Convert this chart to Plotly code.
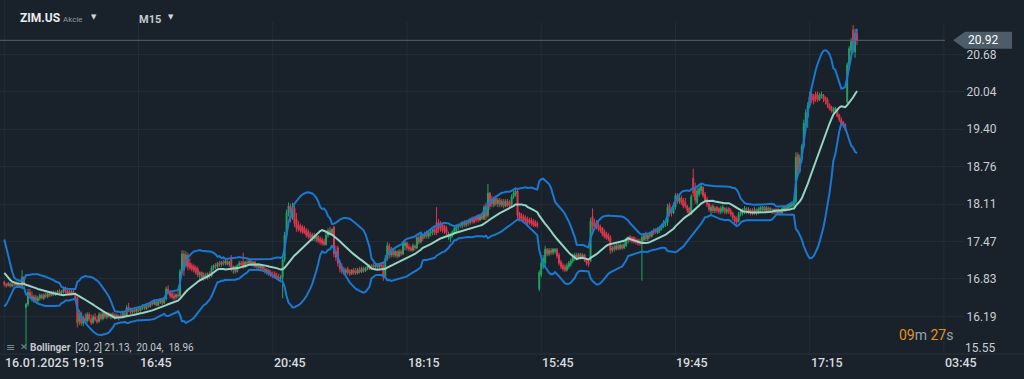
import pandas as pd
import plotly.graph_objects as go

# ---------------- data ----------------
opens = [
16.78,16.74,16.72,16.75,16.71,16.74,16.73,16.76,16.72,16.70,
16.86,16.34,16.40,16.60,16.54,16.48,16.52,16.46,16.50,16.55,
16.50,16.56,16.53,16.58,16.55,16.60,16.56,16.60,16.62,16.59,
16.62,16.66,16.62,16.63,16.58,16.62,16.57,16.50,16.10,16.24,
16.07,16.16,16.11,16.22,16.14,16.08,16.18,16.13,16.10,16.22,
16.15,16.24,16.18,16.22,16.19,16.23,16.17,16.21,16.16,16.19,
16.17,16.24,16.20,16.34,16.30,16.26,16.30,16.27,16.32,16.29,
16.34,16.36,16.32,16.38,16.36,16.42,16.40,16.45,16.38,16.44,
16.48,16.42,16.49,16.66,16.60,16.58,16.54,16.52,16.56,16.54,
16.96,17.26,17.06,17.24,17.10,17.06,17.04,17.02,17.00,16.90,
16.94,16.84,16.90,16.86,16.92,16.88,17.02,17.06,17.04,17.10,
17.08,17.12,17.10,17.14,17.08,17.20,17.00,17.04,16.96,17.06,
17.10,17.12,17.04,17.12,17.10,17.14,17.08,17.12,17.04,17.08,
17.02,17.05,17.00,16.96,16.98,16.94,16.90,16.92,16.88,16.86,
16.84,16.86,17.16,17.58,17.96,18.08,17.88,18.04,17.86,17.76,
17.74,17.72,17.70,17.66,17.64,17.60,17.54,17.58,17.52,17.56,
17.52,17.50,17.48,17.42,17.58,17.66,17.62,17.72,17.30,17.36,
17.12,17.04,17.00,16.94,17.00,16.96,16.92,16.98,16.96,16.93,
16.99,16.95,17.01,16.97,17.02,17.05,17.00,17.06,17.04,17.07,
17.03,17.08,17.06,16.88,17.18,17.40,17.24,17.34,17.24,17.30,
17.22,17.30,17.26,17.40,17.45,17.38,17.36,17.32,17.40,17.36,
17.54,17.46,17.58,17.56,17.62,17.56,17.62,17.64,17.68,17.80,
17.80,17.78,17.76,17.74,17.70,17.56,17.52,17.58,17.64,17.66,
17.72,17.76,17.74,17.80,17.76,17.82,17.80,17.86,17.86,17.88,
17.90,17.84,17.92,17.86,18.08,17.92,18.30,18.20,18.10,18.22,
18.12,18.18,18.10,18.16,18.08,18.16,18.14,18.10,18.24,18.28,
18.34,17.96,17.92,17.90,17.88,17.86,17.84,17.84,17.82,17.80,
17.78,16.66,16.90,17.04,17.10,17.34,17.26,17.32,17.28,17.30,
17.34,17.24,17.12,17.06,17.04,16.98,17.04,17.08,17.14,17.18,
17.24,17.20,17.25,17.20,17.24,17.16,17.12,17.14,17.90,17.80,
17.78,17.76,17.72,17.70,17.64,17.60,17.58,17.54,17.32,17.38,
17.34,17.40,17.35,17.41,17.36,17.40,17.48,17.56,17.54,17.54,
17.50,17.50,17.48,17.44,17.50,17.60,17.52,17.60,17.56,17.66,
17.66,17.62,17.66,17.70,17.74,17.78,17.80,18.10,18.02,17.96,
18.06,18.26,18.16,18.22,18.18,18.14,18.08,18.04,17.96,18.56,
18.40,18.14,18.28,18.34,18.40,18.28,18.20,18.12,18.00,18.08,
18.00,18.06,18.04,17.98,18.00,18.04,17.98,18.04,18.00,17.96,
17.90,17.86,17.82,17.94,17.96,17.98,18.04,17.98,18.02,18.00,
17.95,18.02,17.96,18.00,18.02,18.06,18.00,18.05,18.00,18.02,
17.98,18.02,17.96,18.01,17.96,18.00,18.06,18.02,18.06,18.08,
18.10,18.16,18.96,18.68,18.88,19.10,19.50,19.60,19.80,20.00,
19.96,20.00,19.98,19.90,19.96,19.98,19.94,19.90,19.82,19.78,
19.70,19.72,19.74,19.64,19.56,19.52,19.48,19.86,20.50,20.74,
21.10,20.72,21.04]

highs = [
16.80,16.76,16.78,16.77,16.77,16.76,16.79,16.78,16.75,16.98,
16.88,16.42,16.66,16.66,16.62,16.56,16.56,16.54,16.58,16.58,
16.58,16.60,16.60,16.62,16.62,16.63,16.62,16.64,16.66,16.64,
16.70,16.70,16.68,16.66,16.64,16.65,16.60,16.52,16.30,16.27,
16.20,16.24,16.26,16.26,16.22,16.22,16.24,16.20,16.26,16.26,
16.28,16.27,16.26,16.26,16.25,16.26,16.24,16.24,16.22,16.24,
16.26,16.27,16.38,16.42,16.34,16.32,16.34,16.34,16.36,16.36,
16.40,16.38,16.40,16.42,16.44,16.46,16.48,16.48,16.47,16.50,
16.50,16.52,16.70,16.72,16.64,16.62,16.60,16.58,16.62,17.00,
17.32,17.32,17.30,17.28,17.18,17.10,17.08,17.06,17.04,16.96,
16.96,16.94,16.94,16.94,16.96,17.06,17.08,17.10,17.12,17.14,
17.14,17.16,17.16,17.16,17.14,17.24,17.06,17.06,17.08,17.14,
17.14,17.28,17.14,17.16,17.16,17.16,17.14,17.14,17.10,17.10,
17.08,17.07,17.04,17.02,17.00,16.98,16.96,16.96,16.94,16.92,
16.90,17.20,17.64,18.02,18.14,18.12,18.14,18.08,17.96,17.82,
17.78,17.76,17.74,17.70,17.68,17.64,17.62,17.62,17.60,17.58,
17.56,17.54,17.52,17.62,17.70,17.72,17.70,17.74,17.40,17.40,
17.16,17.10,17.04,17.02,17.04,17.00,17.00,17.02,17.02,17.02,
17.04,17.04,17.04,17.04,17.08,17.08,17.08,17.10,17.10,17.10,
17.10,17.12,17.10,17.24,17.46,17.44,17.38,17.36,17.34,17.32,
17.34,17.34,17.48,17.48,17.47,17.44,17.40,17.44,17.42,17.58,
17.58,17.62,17.60,17.64,17.66,17.66,17.68,17.70,17.72,18.06,
17.86,17.82,17.80,17.76,17.74,17.64,17.62,17.66,17.72,17.76,
17.78,17.80,17.82,17.84,17.84,17.86,17.88,17.90,17.90,17.92,
17.94,17.94,17.96,18.10,18.14,18.46,18.32,18.26,18.24,18.26,
18.22,18.22,18.20,18.20,18.20,18.20,18.18,18.28,18.34,18.38,
18.36,17.98,17.96,17.94,17.92,17.90,17.88,17.88,17.86,17.84,
17.82,16.98,17.16,17.24,17.40,17.36,17.36,17.36,17.36,17.36,
17.36,17.28,17.16,17.10,17.08,17.10,17.14,17.18,17.26,17.28,
17.28,17.28,17.28,17.27,17.26,17.18,17.16,17.88,18.04,17.86,
17.84,17.80,17.76,17.72,17.68,17.64,17.62,17.58,17.40,17.42,
17.44,17.44,17.44,17.43,17.46,17.54,17.56,17.58,17.56,17.56,
17.54,17.52,17.52,17.60,17.62,17.64,17.62,17.64,17.66,17.70,
17.70,17.72,17.74,17.78,17.84,17.86,18.12,18.14,18.06,18.14,
18.30,18.30,18.26,18.26,18.22,18.22,18.10,18.06,18.28,18.72,
18.48,18.40,18.44,18.46,18.42,18.32,18.24,18.14,18.10,18.12,
18.08,18.08,18.06,18.08,18.10,18.06,18.06,18.06,18.04,17.98,
17.92,17.90,17.98,18.02,18.04,18.08,18.06,18.06,18.04,18.04,
18.06,18.04,18.06,18.08,18.08,18.08,18.08,18.07,18.06,18.04,
18.04,18.04,18.04,18.03,18.06,18.08,18.08,18.12,18.14,18.16,
18.18,19.00,19.00,18.96,19.14,19.56,19.74,19.86,20.04,20.02,
20.00,20.04,20.04,20.02,20.04,20.00,19.96,19.94,19.84,19.80,
19.78,19.78,19.76,19.66,19.60,19.54,19.50,20.54,20.82,20.96,
21.18,21.12,21.08]

lows = [
16.70,16.68,16.70,16.68,16.69,16.70,16.71,16.70,16.68,16.66,
16.70,15.62,16.36,16.50,16.44,16.42,16.44,16.42,16.46,16.48,
16.47,16.50,16.50,16.52,16.53,16.54,16.54,16.56,16.57,16.56,
16.58,16.58,16.56,16.56,16.55,16.55,16.46,16.00,16.04,16.03,
16.02,16.08,16.08,16.10,16.04,16.06,16.10,16.06,16.08,16.12,
16.12,16.15,16.14,16.16,16.14,16.15,16.13,16.14,16.12,16.15,
16.15,16.17,16.18,16.26,16.22,16.22,16.24,16.25,16.26,16.27,
16.30,16.30,16.30,16.33,16.34,16.37,16.38,16.36,16.36,16.40,
16.38,16.40,16.46,16.56,16.50,16.48,16.46,16.48,16.50,16.52,
16.92,16.88,17.02,16.98,16.98,16.96,16.94,16.90,16.86,16.80,
16.80,16.80,16.82,16.82,16.84,16.86,16.98,17.00,17.02,17.04,
17.04,17.06,17.06,17.06,17.04,16.96,16.92,16.92,16.94,17.02,
17.04,17.00,17.02,17.06,17.06,17.06,17.04,17.02,17.00,16.98,
16.96,16.96,16.92,16.90,16.88,16.86,16.84,16.84,16.82,16.80,
16.78,16.50,17.12,17.52,17.90,17.80,17.84,17.72,17.64,17.64,
17.62,17.60,17.60,17.54,17.52,17.50,17.48,17.48,17.46,17.44,
17.42,17.40,17.40,17.40,17.54,17.58,17.58,17.20,17.14,17.04,
16.94,16.92,16.90,16.90,16.90,16.88,16.90,16.90,16.90,16.91,
16.92,16.93,16.94,16.95,16.98,16.98,16.98,17.01,17.00,17.00,
17.01,17.02,16.80,16.84,17.14,17.18,17.20,17.20,17.20,17.18,
17.20,17.22,17.24,17.32,17.32,17.30,17.30,17.30,17.32,17.34,
17.42,17.44,17.48,17.52,17.52,17.52,17.56,17.58,17.58,17.58,
17.62,17.64,17.62,17.60,17.58,17.50,17.46,17.54,17.60,17.62,
17.66,17.70,17.70,17.72,17.72,17.74,17.76,17.78,17.78,17.80,
17.80,17.82,17.84,17.84,17.84,17.88,18.02,18.06,18.06,18.08,
18.06,18.06,18.06,18.04,18.06,18.06,18.06,18.08,18.20,18.24,
17.86,17.82,17.82,17.80,17.78,17.74,17.76,17.74,17.72,17.72,
17.70,16.62,16.86,17.00,17.02,17.22,17.22,17.24,17.24,17.26,
17.18,17.06,17.00,16.96,16.95,16.96,17.00,17.04,17.10,17.14,
17.18,17.18,17.16,17.18,17.12,17.06,17.04,17.12,17.66,17.70,
17.68,17.64,17.62,17.56,17.52,17.50,17.48,17.26,17.28,17.30,
17.32,17.32,17.33,17.33,17.34,17.38,17.44,17.46,17.44,17.44,
17.42,17.40,17.40,16.80,17.46,17.48,17.48,17.52,17.54,17.58,
17.60,17.60,17.62,17.66,17.70,17.72,17.74,17.90,17.90,17.94,
18.02,18.12,18.12,18.10,18.04,18.04,17.96,17.92,17.92,18.24,
18.12,18.10,18.24,18.28,18.22,18.14,18.06,17.98,17.92,17.96,
17.96,17.96,17.94,17.94,17.96,17.94,17.94,17.94,17.90,17.84,
17.76,17.76,17.80,17.90,17.92,17.94,17.94,17.94,17.92,17.92,
17.93,17.92,17.94,17.96,17.98,17.98,17.98,17.97,17.96,17.94,
17.94,17.92,17.94,17.92,17.94,17.98,17.98,18.00,18.02,18.04,
18.06,18.12,18.62,18.64,18.82,19.06,19.44,19.42,19.76,19.84,
19.82,19.86,19.86,19.88,19.92,19.86,19.82,19.76,19.72,19.68,
19.66,19.68,19.60,19.52,19.48,19.42,19.36,19.84,20.46,20.70,
20.70,20.62,20.84]

closes = [
16.74,16.72,16.75,16.71,16.74,16.73,16.76,16.72,16.70,16.86,
16.74,16.40,16.60,16.54,16.48,16.52,16.46,16.50,16.55,16.50,
16.56,16.53,16.58,16.55,16.60,16.56,16.60,16.62,16.59,16.62,
16.66,16.60,16.58,16.58,16.61,16.57,16.50,16.08,16.24,16.07,
16.16,16.11,16.22,16.14,16.08,16.18,16.13,16.10,16.22,16.15,
16.24,16.18,16.22,16.19,16.23,16.17,16.21,16.16,16.19,16.17,
16.24,16.20,16.34,16.30,16.26,16.30,16.27,16.32,16.29,16.34,
16.36,16.32,16.38,16.36,16.42,16.40,16.45,16.38,16.44,16.48,
16.42,16.49,16.66,16.60,16.54,16.52,16.50,16.56,16.54,16.96,
17.26,16.98,17.24,17.04,17.02,17.00,16.98,16.94,16.90,16.94,
16.84,16.90,16.86,16.92,16.88,17.02,17.06,17.04,17.10,17.08,
17.12,17.10,17.14,17.08,17.12,17.00,17.04,16.96,17.06,17.10,
17.08,17.04,17.12,17.10,17.14,17.08,17.12,17.04,17.08,17.02,
17.05,17.00,16.96,16.98,16.92,16.90,16.88,16.86,16.84,16.84,
16.86,17.16,17.58,17.96,18.08,17.86,18.04,17.78,17.70,17.68,
17.66,17.64,17.62,17.58,17.56,17.54,17.58,17.52,17.56,17.48,
17.46,17.44,17.42,17.58,17.66,17.62,17.68,17.26,17.20,17.10,
17.00,16.96,16.94,16.98,16.94,16.92,16.98,16.94,16.93,16.99,
16.95,17.01,16.97,17.02,17.05,17.00,17.06,17.04,17.07,17.03,
17.08,17.05,16.86,17.18,17.40,17.24,17.34,17.24,17.30,17.22,
17.30,17.26,17.44,17.45,17.36,17.34,17.32,17.40,17.36,17.54,
17.46,17.58,17.52,17.60,17.56,17.62,17.64,17.68,17.62,17.62,
17.68,17.70,17.66,17.64,17.62,17.60,17.58,17.64,17.70,17.72,
17.76,17.74,17.80,17.76,17.82,17.78,17.84,17.82,17.80,17.84,
17.84,17.92,17.86,18.06,17.90,18.30,18.08,18.12,18.20,18.12,
18.18,18.10,18.16,18.08,18.16,18.10,18.08,18.24,18.30,18.34,
17.92,17.86,17.86,17.84,17.82,17.78,17.80,17.78,17.76,17.74,
17.74,16.94,17.10,17.18,17.34,17.26,17.32,17.28,17.34,17.34,
17.22,17.10,17.04,17.00,16.98,17.06,17.10,17.14,17.22,17.24,
17.20,17.25,17.20,17.24,17.14,17.10,17.08,17.82,17.72,17.74,
17.72,17.68,17.66,17.60,17.56,17.54,17.52,17.32,17.36,17.34,
17.40,17.35,17.41,17.36,17.42,17.50,17.54,17.50,17.48,17.46,
17.46,17.44,17.44,17.54,17.58,17.52,17.58,17.56,17.64,17.62,
17.64,17.68,17.70,17.76,17.80,17.82,18.06,17.94,17.96,18.10,
18.26,18.16,18.22,18.14,18.08,18.08,18.00,17.96,18.24,18.30,
18.18,18.34,18.38,18.42,18.26,18.18,18.10,18.02,18.06,18.00,
18.04,18.00,17.98,18.04,18.06,17.98,18.02,17.98,17.94,17.88,
17.82,17.80,17.94,17.98,18.00,18.04,17.98,18.02,17.96,17.95,
18.02,17.96,18.03,18.05,18.06,18.00,18.05,18.00,18.04,17.98,
18.02,17.96,18.01,17.96,18.04,18.06,18.02,18.10,18.12,18.14,
18.16,18.92,18.68,18.90,19.10,19.50,19.68,19.80,19.96,19.90,
19.88,19.92,19.90,19.98,20.00,19.92,19.88,19.82,19.76,19.72,
19.74,19.76,19.62,19.56,19.50,19.46,19.40,20.50,20.78,20.90,
20.76,21.04,20.92]

# closes of the 19 candles just left of the visible window (only feed the Bollinger window)
warmup_closes = [17.60,17.55,17.45,17.30,17.10,16.90,16.85,16.80,16.78,16.80,
                 16.76,16.78,16.74,16.76,16.72,16.75,16.78,16.76,16.74]

price_ticks = [16.19, 16.83, 17.47, 18.11, 18.76, 19.40, 20.04, 20.68]
bottom_price_label = 15.55
time_labels = ["16.01.2025", "19:15", "16:45", "20:45", "18:15", "15:45", "19:45", "17:15", "03:45"]
time_label_pos = [0, 34, 68, 136, 204, 272, 340, 408, 476]
grid_pos = [0, 68, 136, 204, 272, 340, 408, 476]
last_price = 20.92
bb_period, bb_mult = 20, 2
bb_text_values = ["21.13", "20.04", "18.96"]
symbol, symbol_type, timeframe = "ZIM.US", "Akcie", "M15"
countdown = ("09", "27")

assert len(opens) == len(highs) == len(lows) == len(closes)

# ---------------- style ----------------
BG = "#19212a"
GRID = "#232c35"
GREEN = "#22a463"
RED = "#e0384f"
BLUE = "#1b78d2"
MINT = "#98d4c4"
TXT = "#c9ced3"
FONT = "Roboto"

W, H = 1024, 379
PL, PR, PT, PB = 0, 945, 22, 354          # plot area in pixels
Y0, Y1 = 15.544, 21.234
X0, X1 = -2.18, 476.55

def px(xp):
    return (xp - PL) / (PR - PL)

def py(yp):
    return (PB - yp) / (PB - PT)

def pv(v):
    return (v - Y0) / (Y1 - Y0)

idx = list(range(len(closes)))

s = pd.Series(warmup_closes + closes)
mid_s = s.rolling(bb_period).mean().iloc[len(warmup_closes):]
sd = s.rolling(bb_period).std(ddof=0).iloc[len(warmup_closes):]
mid = mid_s.tolist()
upper = (mid_s + bb_mult * sd).tolist()
lower = (mid_s - bb_mult * sd).tolist()

fig = go.Figure()
fig.add_trace(go.Candlestick(
    x=idx, open=opens, high=highs, low=lows, close=closes,
    increasing=dict(line=dict(color=GREEN, width=1), fillcolor=GREEN),
    decreasing=dict(line=dict(color=RED, width=1), fillcolor=RED),
    whiskerwidth=0, hoverinfo="skip", showlegend=False))
for series, col in ((upper, BLUE), (lower, BLUE), (mid, MINT)):
    fig.add_trace(go.Scatter(x=idx, y=series, mode="lines",
                             line=dict(color=col, width=2),
                             hoverinfo="skip", showlegend=False))

shapes = []
for g in grid_pos:
    shapes.append(dict(type="line", xref="x", yref="paper", x0=g, x1=g, y0=0,
                       y1=(py(0) if g == 0 else 1), line=dict(color=GRID, width=1),
                       layer="below"))
shapes.append(dict(type="line", xref="paper", yref="paper", x0=0, x1=px(W), y0=0, y1=0,
                   line=dict(color="#2a343d", width=1)))
shapes.append(dict(type="line", xref="paper", yref="paper", x0=0, x1=1,
                   y0=pv(last_price), y1=pv(last_price), line=dict(color="#56626c", width=1)))
yc, hh = pv(last_price), 8.5 / (PB - PT)
shapes.append(dict(type="path", xref="paper", yref="paper",
                   path=(f"M {px(953)},{yc} L {px(965)},{yc+hh} L {px(1012)},{yc+hh} "
                         f"L {px(1012)},{yc-hh} L {px(965)},{yc-hh} Z"),
                   fillcolor="#4d5c69", line=dict(width=0)))

ann = []
for lab, pos in zip(time_labels, time_label_pos):
    ann.append(dict(x=pos, xref="x", y=py(362), yref="paper", text=lab, showarrow=False,
                    xanchor="left", yanchor="middle", xshift=-1,
                    font=dict(family=FONT, size=12.5, color="#d6dade", weight=500)))
ann.append(dict(x=px(963), xref="paper", y=py(348), yref="paper", text=f"{bottom_price_label:.2f}",
                showarrow=False, xanchor="left", yanchor="middle",
                font=dict(family=FONT, size=12, color=TXT)))
ann.append(dict(x=px(966), xref="paper", y=yc, yref="paper", text=f"{last_price:.2f}",
                showarrow=False, xanchor="left", yanchor="middle",
                font=dict(family=FONT, size=12, color="#ffffff")))
ann.append(dict(x=px(4), xref="paper", y=py(347), yref="paper", text="≡", showarrow=False,
                xanchor="left", yanchor="middle", font=dict(family="DejaVu Sans", size=11, color="#7f8890")))
ann.append(dict(x=px(18), xref="paper", y=py(347), yref="paper", text="✕", showarrow=False,
                xanchor="left", yanchor="middle", font=dict(family="DejaVu Sans", size=9, color="#7f8890")))
ann.append(dict(x=px(28), xref="paper", y=py(347), yref="paper",
                text=(f"<b>Bollinger</b>  [{bb_period}, {bb_mult}] " + ",  ".join(bb_text_values)),
                showarrow=False, xanchor="left", yanchor="middle",
                font=dict(family=FONT, size=10, color="#c3c8cc")))
ann.append(dict(x=px(897), xref="paper", y=py(335), yref="paper",
                text=(f"<span style='color:#e8901c'>{countdown[0]}</span>m "
                      f"<span style='color:#e8901c'>{countdown[1]}</span>s"),
                showarrow=False, xanchor="left", yanchor="middle",
                font=dict(family=FONT, size=14, color="#9aa3ab")))
ann.append(dict(x=px(18), xref="paper", y=py(18), yref="paper", text=f"<b>{symbol}</b>",
                showarrow=False, xanchor="left", yanchor="middle",
                font=dict(family=FONT, size=12, color="#e9edf0")))
ann.append(dict(x=px(61), xref="paper", y=py(19), yref="paper", text=symbol_type,
                showarrow=False, xanchor="left", yanchor="middle",
                font=dict(family=FONT, size=8, color="#8e99a3")))
ann.append(dict(x=px(89), xref="paper", y=py(17), yref="paper", text="▼",
                showarrow=False, xanchor="left", yanchor="middle",
                font=dict(family="DejaVu Sans", size=7, color="#d0d6db")))
ann.append(dict(x=px(137), xref="paper", y=py(19), yref="paper", text=f"<b>{timeframe}</b>",
                showarrow=False, xanchor="left", yanchor="middle",
                font=dict(family=FONT, size=11, color="#c5cbd1")))
ann.append(dict(x=px(166), xref="paper", y=py(17), yref="paper", text="▼",
                showarrow=False, xanchor="left", yanchor="middle",
                font=dict(family="DejaVu Sans", size=7, color="#d0d6db")))

fig.update_layout(
    width=W, height=H, autosize=False,
    paper_bgcolor=BG, plot_bgcolor=BG,
    margin=dict(l=PL, r=W - PR, t=PT, b=H - PB, pad=0),
    showlegend=False,
    xaxis=dict(range=[X0, X1], showgrid=False, zeroline=False, showticklabels=False,
               showline=False, ticks="", rangeslider=dict(visible=False), fixedrange=True),
    yaxis=dict(range=[Y0, Y1], side="right", tickvals=price_ticks,
               ticktext=[f"{v:.2f}" for v in price_ticks],
               showgrid=True, gridcolor=GRID, gridwidth=1, zeroline=False, showline=False,
               ticks="outside", ticklen=18, tickcolor=GRID, tickwidth=1,
               tickfont=dict(family=FONT, size=12, color=TXT), fixedrange=True),
    shapes=shapes, annotations=ann,
    hovermode=False,
)

fig.write_html("out.html", config={"displayModeBar": False},
               post_script="document.body.style.margin='0';document.body.style.overflow='hidden';")
